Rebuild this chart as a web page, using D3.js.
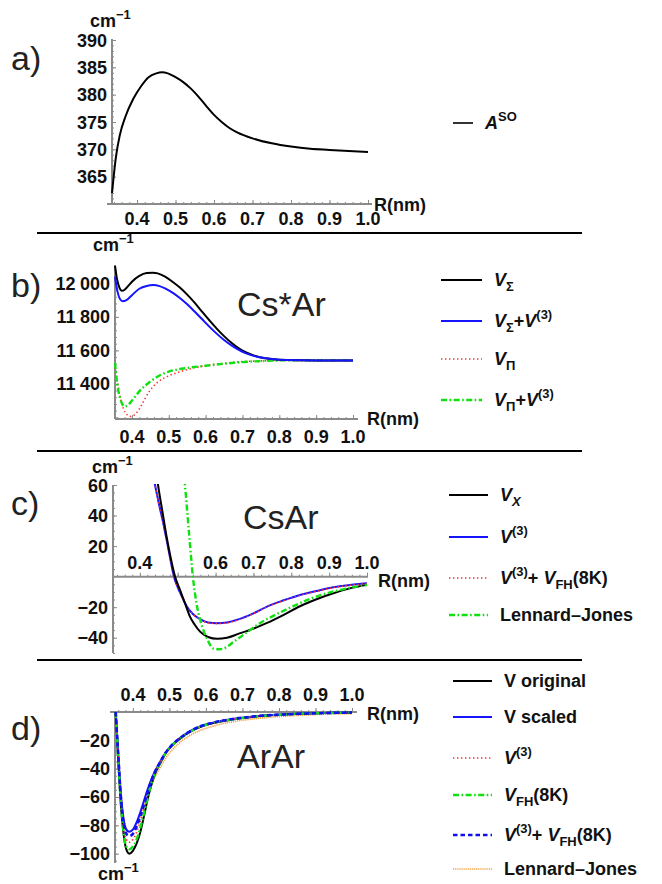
<!DOCTYPE html>
<html>
<head>
<meta charset="utf-8">
<script src="https://cdn.jsdelivr.net/npm/d3@7"></script>
<style>
  body { margin: 0; background: #fff; }
  svg { display: block; }
  text { font-family: "Liberation Sans", Arial, sans-serif; }
</style>
</head>
<body>
<script>
// ---------- data ----------
// a) spin-orbit constant
const aR  = [0.335,0.345,0.355,0.37,0.39,0.41,0.43,0.45,0.465,0.48,0.50,0.52,0.54,0.56,0.58,0.60,0.62,0.64,0.66,0.70,0.75,0.80,0.85,0.90,0.95,1.0];
const aSO = [362,368.5,372.5,376,379.2,381.5,383.2,383.9,384.1,383.9,383.2,382.3,381.1,379.6,377.9,376.3,375.0,373.9,373.1,372.0,371.1,370.5,370.1,369.9,369.7,369.5];

// b) Cs*Ar
const bRsig  = [0.354,0.36,0.366,0.373,0.38,0.39,0.40,0.42,0.44,0.457,0.47,0.49,0.51,0.53,0.55,0.57,0.59,0.61,0.63,0.65,0.67,0.69,0.71,0.73,0.75,0.78,0.82,0.90,1.0];
const bVsig  = [12105,12020,11975,11956,11962,11985,12010,12045,12062,12064,12060,12040,12010,11975,11933,11885,11832,11780,11730,11685,11645,11612,11588,11570,11558,11548,11542,11540,11540];
const bRsig3 = [0.354,0.36,0.368,0.375,0.385,0.40,0.42,0.44,0.458,0.475,0.49,0.51,0.53,0.55,0.57,0.59,0.61,0.63,0.65,0.67,0.69,0.71,0.73,0.75,0.78,0.82,0.90,1.0];
const bVsig3 = [12040,11960,11905,11893,11900,11930,11968,11985,11990,11984,11970,11945,11913,11875,11832,11787,11742,11700,11662,11630,11603,11582,11567,11557,11548,11542,11540,11540];
const bRpi   = [0.354,0.36,0.368,0.377,0.387,0.395,0.405,0.42,0.435,0.45,0.47,0.495,0.52,0.55,0.585,0.62,0.66,0.70,0.75,0.80,1.0];
const bVpi   = [11495,11420,11320,11250,11215,11205,11212,11250,11310,11364,11410,11443,11465,11485,11503,11515,11525,11533,11537,11540,11540];
const bRpi3  = [0.354,0.36,0.367,0.375,0.381,0.39,0.40,0.42,0.45,0.475,0.50,0.55,0.60,0.65,0.70,0.75,0.80,1.0];
const bVpi3  = [11525,11400,11320,11275,11265,11275,11300,11355,11414,11450,11473,11495,11508,11520,11530,11536,11540,11540];

// c) CsAr ground state
const cRx  = [0.44,0.448,0.46,0.47,0.48,0.493,0.506,0.52,0.532,0.545,0.559,0.58,0.604,0.63,0.66,0.70,0.736,0.78,0.823,0.87,0.911,0.95,1.0];
const cVx  = [75,60,42,27,14,0,-8.7,-18,-26,-31.5,-36,-39.5,-40.7,-40,-37.5,-34,-30.3,-25,-19.4,-14.5,-10.9,-8,-5.4];
const cR3  = [0.43,0.44,0.45,0.46,0.47,0.48,0.49,0.50,0.512,0.524,0.54,0.56,0.58,0.604,0.63,0.66,0.70,0.736,0.78,0.823,0.87,0.911,0.95,1.0];
const cV3  = [72,60,48,37,25,12,0,-7,-13.5,-19.6,-24.5,-28,-30,-30.5,-30,-28,-24,-19.6,-15.5,-12,-9.2,-7,-5.6,-4.4];
const cV3fh = [72,60,48,37,25,12,0,-7.1,-13.6,-19.7,-24.6,-28.1,-30.2,-30.7,-30.2,-28.2,-24.2,-19.8,-15.7,-12.2,-9.4,-7.2,-5.8,-4.6];
const cRlj = [0.51,0.519,0.53,0.54,0.55,0.565,0.58,0.593,0.61,0.63,0.646,0.68,0.72,0.75,0.80,0.85,0.90,0.95,1.0];
const cVlj = [80,60,28,0,-18,-33,-42,-47,-47.5,-46,-43,-37,-30,-26,-20,-14.5,-10.5,-7.5,-5.5];

// d) ArAr
const dR      = [0.353,0.36,0.367,0.374,0.382,0.39,0.40,0.41,0.42,0.43,0.44,0.45,0.46,0.475,0.49,0.51,0.536,0.56,0.58,0.62,0.66,0.70,0.75,0.80,0.85,0.90,0.95,1.0];
const dOrig   = [0,-35,-65,-85,-97,-100,-98,-93,-85,-74,-62,-52,-44,-36,-29,-23,-17.5,-13.5,-11,-7.8,-5.8,-4.3,-2.8,-2,-1.3,-0.9,-0.6,-0.4];
const dScaled = [0,-30,-58,-75,-83,-84.5,-83,-78,-71,-63,-55,-48,-42,-35,-28.5,-22.5,-17,-13,-10.5,-7.5,-5.5,-4,-2.7,-1.9,-1.3,-0.9,-0.6,-0.4];
const dV3     = [0,-32,-62,-81,-90,-92,-90,-85,-77,-68,-59,-50,-43,-35.5,-28.8,-22.8,-17.2,-13.2,-10.7,-7.6,-5.6,-4.1,-2.7,-1.9,-1.3,-0.9,-0.6,-0.4];
const dFH     = [0,-34,-64,-84,-95,-97,-95,-90,-82,-72,-61,-51,-43.5,-36,-29,-23,-17.4,-13.4,-10.9,-7.7,-5.7,-4.2,-2.8,-2,-1.3,-0.9,-0.6,-0.4];
const dV3FH   = [0,-31,-60,-78,-86,-87.5,-86,-81,-74,-65.5,-57,-49,-42.5,-35.2,-28.6,-22.6,-17.1,-13.1,-10.6,-7.5,-5.5,-4,-2.7,-1.9,-1.3,-0.9,-0.6,-0.4];
const dLJ     = [0,-28,-55,-73,-82,-84.5,-83,-79,-73,-66,-59,-52,-46,-39,-32.5,-26,-20,-16,-13.5,-10,-7.5,-5.8,-4.3,-3.2,-2.4,-1.8,-1.4,-1.1];

// tick labels
const xTicks  = [0.4,0.5,0.6,0.7,0.8,0.9,1.0];
const xTicksC = [0.4,0.6,0.7,0.8,0.9,1.0];
const aTicks = [365,370,375,380,385,390];
const bTicks = [11400,11600,11800,12000];
const cTicks = [-40,-20,20,40,60];
const dTicks = [-100,-80,-60,-40,-20];

// ---------- styles ----------
const BLACK = {color: "#000", width: 2, dash: null};
const BLUE  = {color: "#1414ff", width: 2, dash: null};
const RED   = {color: "#ff3030", width: 1.6, dash: "1.4,2.6"};
const GREEN = {color: "#10e010", width: 2.4, dash: "6,2.5,1.6,2.5"};
const BDASH = {color: "#1010ee", width: 2.6, dash: "4.5,3"};
const ORNG  = {color: "#f5a040", width: 1.7, dash: "1.2,0.9"};

const W = 662, H = 884;
const svg = d3.select("body").append("svg").attr("width", W).attr("height", H);

// rich text: parts = [[text, kind]] kind: n, i, sub, subi, sup
function rich(sel, x, y, parts, size, weight) {
  const t = sel.append("text").attr("x", x).attr("y", y)
    .attr("font-size", size).attr("font-weight", weight || "bold").attr("fill", "#111");
  let shift = 0;
  parts.forEach(([s, k]) => {
    const ts = t.append("tspan").text(s);
    let target = 0;
    if (k.startsWith("sub")) target = size * 0.28;
    if (k === "sup") target = -size * 0.42;
    if (target - shift !== 0) ts.attr("dy", target - shift);
    shift = target;
    if (k !== "n" && k !== "i") ts.attr("font-size", size * 0.72);
    if (k === "i" || k === "subi") ts.attr("font-style", "italic");
  });
  return t;
}

function styleLine(p, st) {
  p.attr("fill", "none").attr("stroke", st.color).attr("stroke-width", st.width)
    .attr("stroke-linejoin", "round");
  if (st.dash) p.attr("stroke-dasharray", st.dash);
  return p;
}

let clipId = 0;
function panel(cfg) {
  const g = svg.append("g");
  const x = d3.scaleLinear().domain(cfg.xDom).range(cfg.xRange);
  const y = d3.scaleLinear().domain(cfg.yDom).range(cfg.yRange);
  const axisY = y(cfg.xAxisAt);
  const x0 = cfg.xRange[0];

  // minor and major ticks on x axis
  const minorX = d3.range(0.34, 1.001, 0.02).filter(v => v >= cfg.xDom[0]);
  const ax = g.append("g").attr("transform", `translate(0,${axisY})`);
  ax.call(d3.axisBottom(x).tickValues(minorX).tickSize(-2).tickFormat(""));
  ax.append("g").call(d3.axisBottom(x).tickValues(d3.range(0.4, 1.001, 0.1)).tickSize(-4).tickFormat(""));
  ax.selectAll(".domain").remove();
  ax.selectAll("line").attr("stroke", "#8a8a8a").attr("stroke-width", 1);

  // x tick labels
  g.selectAll(null).data(cfg.xLabels).enter().append("text")
    .attr("x", d => x(d)).attr("y", axisY + cfg.xLabelDy)
    .attr("text-anchor", "middle").attr("font-size", 18).attr("font-weight", "bold")
    .attr("fill", "#111").text(d => d.toFixed(1));

  // y axis ticks
  const ayG = g.append("g").attr("transform", `translate(${x0},0)`);
  ayG.call(d3.axisLeft(y).tickValues(cfg.yMinor).tickSize(-2).tickFormat(""));
  ayG.append("g").call(d3.axisLeft(y).tickValues(cfg.yLabels).tickSize(-4).tickFormat(""));
  ayG.selectAll(".domain").remove();
  ayG.selectAll("line").attr("stroke", "#8a8a8a").attr("stroke-width", 1);

  g.selectAll(null).data(cfg.yLabels).enter().append("text")
    .attr("x", x0 - 5).attr("y", d => y(d) + 6.5)
    .attr("text-anchor", "end").attr("font-size", 18).attr("font-weight", "bold")
    .attr("fill", "#111").text(cfg.yFormat);

  // axis lines
  g.append("line").attr("x1", cfg.xLine[0]).attr("x2", cfg.xLine[1])
    .attr("y1", axisY).attr("y2", axisY).attr("stroke", "#8a8a8a").attr("stroke-width", 2);
  g.append("line").attr("x1", x0).attr("x2", x0)
    .attr("y1", cfg.yLine[0]).attr("y2", cfg.yLine[1]).attr("stroke", "#8a8a8a").attr("stroke-width", 2);

  // curves
  const id = "clip" + (clipId++);
  g.append("clipPath").attr("id", id).append("rect")
    .attr("x", x0 - 1).attr("y", Math.min(...cfg.yRange) - 1)
    .attr("width", cfg.xRange[1] - x0 + 3).attr("height", Math.abs(cfg.yRange[1] - cfg.yRange[0]) + 2);
  const cg = g.append("g").attr("clip-path", `url(#${id})`);
  const line = d3.line().x(d => x(d[0])).y(d => y(d[1])).curve(d3.curveMonotoneX);
  cfg.series.forEach(s => {
    const pts = s.r.map((r, i) => [r, s.v[i]]);
    styleLine(cg.append("path").attr("d", line(pts)), s.style);
  });

  // units
  rich(g, cfg.cm[0], cfg.cm[1], [["cm", "n"], ["\u22121", "sup"]], 18);
  rich(g, cfg.rnm[0], cfg.rnm[1], [["R(nm)", "n"]], 18);

  // panel letter
  g.append("text").attr("x", 11).attr("y", cfg.letterY).attr("font-size", 34)
    .attr("fill", "#222").text(cfg.letter);

  // molecule label
  if (cfg.mol) {
    g.append("text").attr("x", cfg.mol[1]).attr("y", cfg.mol[2]).attr("font-size", 34)
      .attr("fill", "#222").text(cfg.mol[0]);
  }

  // legend
  cfg.legend.forEach((e, i) => {
    const ly = cfg.legY[i];
    styleLine(g.append("path").attr("d", `M${cfg.legX[0]},${ly}H${cfg.legX[1]}`), e.style);
    rich(g, cfg.legX[1] + 12, ly + 6, e.parts, 18);
  });
}

const fmt0 = d => d3.format(",")(d).replace(",", "\u2005");
const fmtMinus = d => d3.format("")(d);

// a)
panel({
  letter: "a)", letterY: 70,
  xDom: [0.335, 1.0], xRange: [112, 368], yDom: [360, 390], yRange: [204, 40],
  xAxisAt: 360, xLabels: xTicks, xLabelDy: 21,
  yLabels: aTicks, yMinor: d3.range(361, 390, 1), yFormat: d => d,
  xLine: [107, 372], yLine: [39, 204],
  cm: [90, 27], rnm: [374, 211],
  series: [{r: aR, v: aSO, style: BLACK}],
  legX: [453, 473], legY: [123],
  legend: [{style: {color: "#000", width: 1.6}, parts: [["A", "i"], ["SO", "sup"]]}]
});

// b)
panel({
  letter: "b)", letterY: 297, mol: ["Cs*Ar", 237, 316],
  xDom: [0.354, 1.0], xRange: [115, 353], yDom: [11190, 12110], yRange: [419, 265],
  xAxisAt: 11190, xLabels: xTicks, xLabelDy: 24,
  yLabels: bTicks, yMinor: d3.range(11200, 12101, 40), yFormat: fmt0,
  xLine: [115, 358], yLine: [265, 419],
  cm: [93, 251], rnm: [367, 425],
  series: [
    {r: bRpi, v: bVpi, style: RED},
    {r: bRpi3, v: bVpi3, style: GREEN},
    {r: bRsig, v: bVsig, style: BLACK},
    {r: bRsig3, v: bVsig3, style: BLUE}
  ],
  legX: [441, 482], legY: [280, 321, 359, 400],
  legend: [
    {style: BLACK, parts: [["V", "i"], ["\u03A3", "sub"]]},
    {style: BLUE, parts: [["V", "i"], ["\u03A3", "sub"], ["+", "n"], ["V", "i"], ["(3)", "sup"]]},
    {style: RED, parts: [["V", "i"], ["\u03A0", "sub"]]},
    {style: GREEN, parts: [["V", "i"], ["\u03A0", "sub"], ["+", "n"], ["V", "i"], ["(3)", "sup"]]}
  ]
});

// c)
panel({
  letter: "c)", letterY: 515, mol: ["CsAr", 243, 529],
  xDom: [0.329, 1.0], xRange: [113, 367], yDom: [-50, 60], yRange: [653, 485],
  xAxisAt: 0, xLabels: xTicksC, xLabelDy: -8,
  yLabels: cTicks, yMinor: d3.range(-50, 61, 5), yFormat: fmtMinus,
  xLine: [113, 368], yLine: [485, 653],
  cm: [92, 473], rnm: [378, 587],
  series: [
    {r: cR3, v: cV3, style: BLUE},
    {r: cR3, v: cV3fh, style: RED},
    {r: cRx, v: cVx, style: BLACK},
    {r: cRlj, v: cVlj, style: GREEN}
  ],
  legX: [449, 488], legY: [495, 537, 578, 615],
  legend: [
    {style: BLACK, parts: [["V", "i"], ["X", "subi"]]},
    {style: BLUE, parts: [["V", "i"], ["(3)", "sup"]]},
    {style: RED, parts: [["V", "i"], ["(3)", "sup"], ["+ ", "n"], ["V", "i"], ["FH", "sub"], ["(8K)", "n"]]},
    {style: GREEN, parts: [["Lennard\u2013Jones", "n"]]}
  ]
});

// d)
panel({
  letter: "d)", letterY: 740, mol: ["ArAr", 237, 768],
  xDom: [0.351, 1.0], xRange: [115, 352], yDom: [-106.6, 0], yRange: [863, 712],
  xAxisAt: 0, xLabels: xTicks, xLabelDy: -11,
  yLabels: dTicks, yMinor: d3.range(-105, 0, 5), yFormat: fmtMinus,
  xLine: [110, 357], yLine: [711, 863],
  cm: [98, 880], rnm: [367, 720],
  series: [
    {r: dR, v: dLJ, style: ORNG},
    {r: dR, v: dOrig, style: BLACK},
    {r: dR, v: dScaled, style: BLUE},
    {r: dR, v: dV3, style: RED},
    {r: dR, v: dFH, style: GREEN},
    {r: dR, v: dV3FH, style: BDASH}
  ],
  legX: [453, 492], legY: [681, 717, 758, 795, 835, 869],
  legend: [
    {style: BLACK, parts: [["V original", "n"]]},
    {style: BLUE, parts: [["V scaled", "n"]]},
    {style: RED, parts: [["V", "i"], ["(3)", "sup"]]},
    {style: GREEN, parts: [["V", "i"], ["FH", "sub"], ["(8K)", "n"]]},
    {style: BDASH, parts: [["V", "i"], ["(3)", "sup"], ["+ ", "n"], ["V", "i"], ["FH", "sub"], ["(8K)", "n"]]},
    {style: ORNG, parts: [["Lennard\u2013Jones", "n"]]}
  ]
});

// separators
[233, 451, 660].forEach(yy => {
  svg.append("line").attr("x1", 37).attr("x2", 582).attr("y1", yy).attr("y2", yy)
    .attr("stroke", "#000").attr("stroke-width", 2);
});
</script>
</body>
</html>
